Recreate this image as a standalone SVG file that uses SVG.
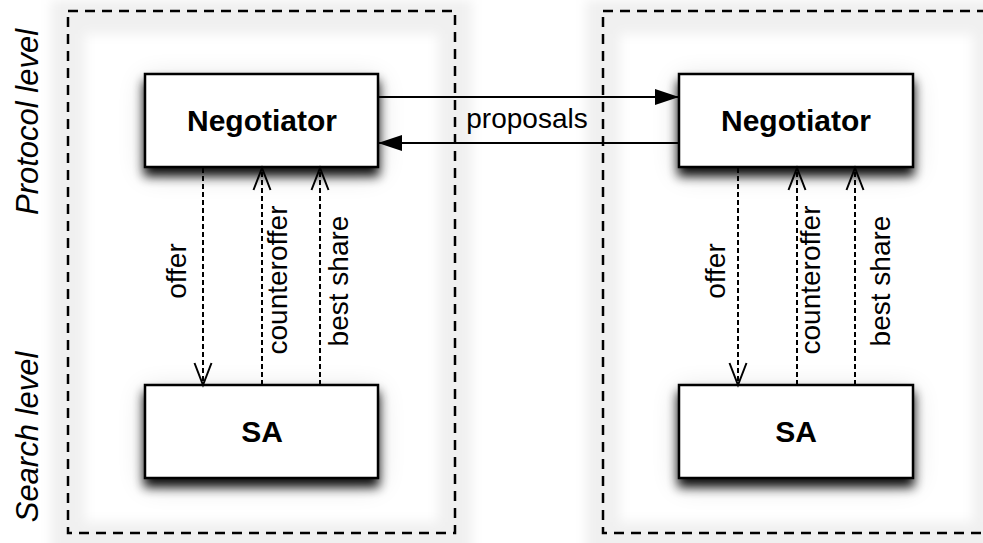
<svg xmlns="http://www.w3.org/2000/svg" width="983" height="543" viewBox="0 0 983 543">
<style>
.cont{fill:none;stroke:#000;stroke-width:2.5;stroke-dasharray:10,7}
.glow{fill:none;stroke:#000;stroke-opacity:0.06;stroke-width:34}
.box{fill:#fff;stroke:#000;stroke-width:2.5}
.title{font-family:"Liberation Sans",Arial,sans-serif;font-weight:bold;font-size:30px;text-anchor:middle;fill:#000}
.lbl{font-family:"Liberation Sans",Arial,sans-serif;font-size:28px;text-anchor:middle;fill:#000}
.lvl{font-family:"Liberation Sans",Arial,sans-serif;font-style:italic;font-size:31px;text-anchor:middle;fill:#000}
.solid{stroke:#000;stroke-width:2;fill:none}
.dash{stroke:#000;stroke-width:2;fill:none;stroke-dasharray:5,3}
</style>
<defs>
<filter id="blur" x="-20%" y="-20%" width="140%" height="140%"><feGaussianBlur stdDeviation="6"/></filter>
<filter id="shadow" x="-20%" y="-30%" width="140%" height="170%">
<feGaussianBlur in="SourceAlpha" stdDeviation="14" result="b1"/>
<feOffset in="b1" dy="6" result="o1"/>
<feComponentTransfer in="o1" result="c1"><feFuncA type="linear" slope="0.14"/></feComponentTransfer>
<feGaussianBlur in="SourceAlpha" stdDeviation="5.5" result="b2"/>
<feOffset in="b2" dy="8" result="o2"/>
<feComponentTransfer in="o2" result="c2"><feFuncA type="linear" slope="0.95"/></feComponentTransfer>
<feMerge><feMergeNode in="c1"/><feMergeNode in="c2"/><feMergeNode in="SourceGraphic"/></feMerge>
</filter>
<marker id="filled" markerUnits="userSpaceOnUse" markerWidth="24" markerHeight="16" refX="24" refY="8" orient="auto" overflow="visible">
<path d="M0,0 L24,8 L0,16 z" fill="#000"/>
</marker>
<marker id="open" markerUnits="userSpaceOnUse" markerWidth="22" markerHeight="17" refX="22" refY="8.5" orient="auto" overflow="visible">
<path d="M0,0 L22,8.5 L0,17" fill="none" stroke="#000" stroke-width="2"/>
</marker>
</defs>
<rect width="983" height="543" fill="#fff"/>

<g id="container-left">
<rect class="glow" x="68" y="17" width="387" height="522" filter="url(#blur)"/>
<rect class="cont" x="68" y="11" width="387" height="522"/>
</g>
<g id="container-right">
<rect class="glow" x="603" y="17" width="387" height="522" filter="url(#blur)"/>
<rect class="cont" x="603" y="11" width="387" height="522"/>
</g>

<g id="level-labels">
<text class="lvl" transform="translate(38,122) rotate(-90)">Protocol level</text>
<text class="lvl" transform="translate(38,437) rotate(-90)">Search level</text>
</g>

<g id="negotiator-left">
<rect class="box" x="145" y="74" width="233" height="93" filter="url(#shadow)"/>
<text class="title" x="262" y="131">Negotiator</text>
</g>
<g id="sa-left">
<rect class="box" x="145" y="385" width="233" height="93" filter="url(#shadow)"/>
<text class="title" x="262" y="442">SA</text>
</g>
<g id="negotiator-right">
<rect class="box" x="679" y="74" width="234" height="93" filter="url(#shadow)"/>
<text class="title" x="796" y="131">Negotiator</text>
</g>
<g id="sa-right">
<rect class="box" x="679" y="385" width="234" height="93" filter="url(#shadow)"/>
<text class="title" x="796" y="442">SA</text>
</g>

<g id="connectors">
<line class="solid" x1="378" y1="97" x2="679" y2="97" marker-end="url(#filled)"/>
<line class="solid" x1="679" y1="143" x2="378" y2="143" marker-end="url(#filled)"/>
<text class="lbl" x="527" y="128">proposals</text>

<line class="dash" x1="203" y1="168" x2="203" y2="385" marker-end="url(#open)"/>
<line class="dash" x1="262" y1="385" x2="262" y2="168" marker-end="url(#open)"/>
<line class="dash" x1="320" y1="385" x2="320" y2="168" marker-end="url(#open)"/>
<text class="lbl" transform="translate(186,271) rotate(-90)">offer</text>
<text class="lbl" transform="translate(287,280) rotate(-90)">counteroffer</text>
<text class="lbl" transform="translate(348,281) rotate(-90)">best share</text>

<line class="dash" x1="738" y1="168" x2="738" y2="385" marker-end="url(#open)"/>
<line class="dash" x1="797" y1="385" x2="797" y2="168" marker-end="url(#open)"/>
<line class="dash" x1="855" y1="385" x2="855" y2="168" marker-end="url(#open)"/>
<text class="lbl" transform="translate(725,271) rotate(-90)">offer</text>
<text class="lbl" transform="translate(820,280) rotate(-90)">counteroffer</text>
<text class="lbl" transform="translate(890,281) rotate(-90)">best share</text>
</g>
</svg>
